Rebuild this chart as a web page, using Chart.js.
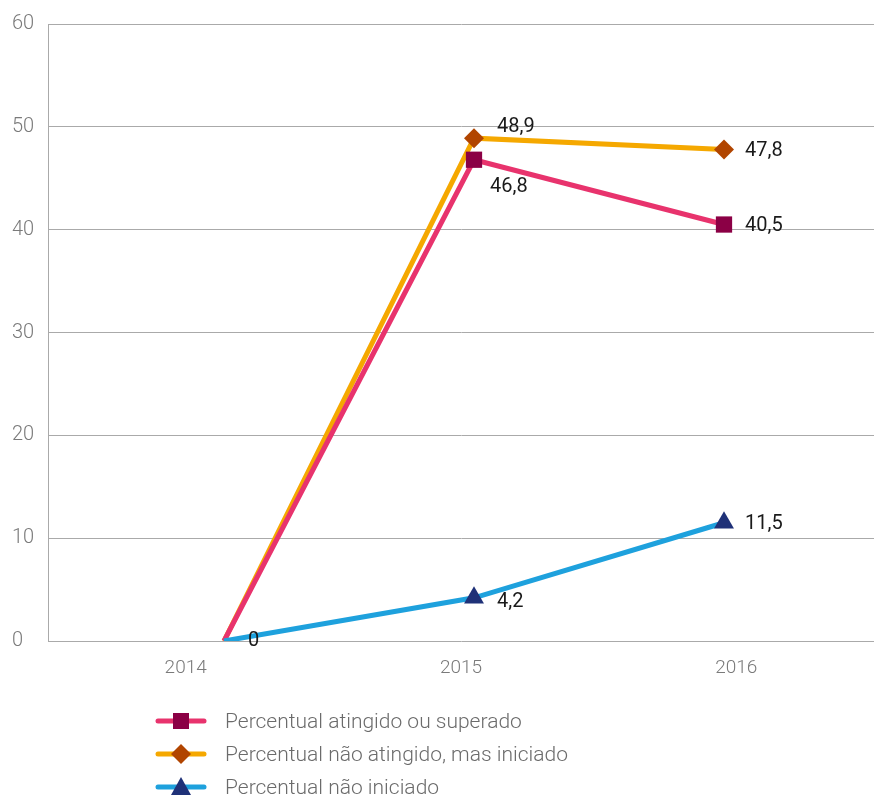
<!DOCTYPE html>
<html>
<head>
<meta charset="utf-8">
<script src="https://cdn.jsdelivr.net/npm/chart.js@4.4.1/dist/chart.umd.min.js"></script>
<style>
    html, body { margin: 0; padding: 0; background: #fff; }
    #wrap { position: relative; width: 874px; height: 798px; }
    #legend {
        position: absolute; left: 155px; top: 704px;
        font-family: Roboto, "DejaVu Sans", sans-serif; font-size: 21px; font-weight: 300; color: #6b6b6b;
    }
    .leg-row { display: flex; align-items: center; height: 33px; }
    .leg-row svg { margin-right: 18px; }
</style>
</head>
<body>
<div id="wrap">
    <canvas id="chart" width="874" height="798"></canvas>
    <div id="legend"></div>
</div>
<script>
const years = ['2014', '2015', '2016'];
const atingido = [0, 46.8, 40.5];
const naoAtingido = [0, 48.9, 47.8];
const naoIniciado = [0, 4.2, 11.5];
const yTicks = [0, 10, 20, 30, 40, 50, 60];

const seriesNames = [
    'Percentual atingido ou superado',
    'Percentual não atingido, mas iniciado',
    'Percentual não iniciado'
];

// label offsets (left edge of text relative to the point), one per point
const labelOffsets = [
    [null, [16, 27], [21, 1]],
    [null, [23, -11], [21, 2]],
    [[24, 0], [23, 4], [21, 1]]
];

const fmt = v => String(v).replace('.', ',');

const toPoints = arr => arr.map((v, i) => ({ x: i, y: v }));

const valueLabels = {
    id: 'valueLabels',
    afterDatasetsDraw(chart) {
        const ctx = chart.ctx;
        ctx.save();
        ctx.font = '400 20px Roboto, "DejaVu Sans", sans-serif';
        ctx.fillStyle = '#1a1a1a';
        ctx.textAlign = 'left';
        ctx.textBaseline = 'middle';
        chart.data.datasets.forEach((ds, di) => {
            const meta = chart.getDatasetMeta(di);
            meta.data.forEach((pt, i) => {
                const off = labelOffsets[di][i];
                if (!off) return;
                ctx.fillText(fmt(ds.data[i].y), pt.x + off[0], pt.y + off[1]);
            });
        });
        ctx.restore();
    }
};

const styles = [
    { line: '#e8336d', mark: '#8b0045', shape: 'rect', radius: 11.5 },
    { line: '#f5a800', mark: '#b14500', shape: 'rectRot', radius: 10 },
    { line: '#1ea1dd', mark: '#1f3178', shape: 'triangle', radius: 11.5 }
];

const seriesData = [atingido, naoAtingido, naoIniciado];

// no marker on the first year, only where the line starts
const radii = r => years.map((_, i) => (i === 0 ? 0 : r));

const datasets = seriesData.map((arr, i) => ({
    label: seriesNames[i],
    data: toPoints(arr),
    xAxisID: 'xp',
    borderColor: styles[i].line,
    borderWidth: 5,
    pointStyle: styles[i].shape,
    pointRadius: radii(styles[i].radius),
    pointHoverRadius: radii(styles[i].radius),
    pointBackgroundColor: styles[i].mark,
    pointBorderColor: styles[i].mark,
    pointBorderWidth: 0,
    tension: 0,
    order: [1, 2, 0][i]
}));

new Chart(document.getElementById('chart'), {
    type: 'line',
    data: { labels: years, datasets: datasets },
    options: {
        responsive: false,
        animation: false,
        layout: { autoPadding: false, padding: { left: 12, top: 24, right: 0, bottom: 112 } },
        plugins: { legend: { display: false }, tooltip: { enabled: false } },
        scales: {
            x: {
                type: 'category',
                offset: true,
                grid: { display: false, drawTicks: false },
                border: { display: false },
                ticks: { color: '#7a7a7a', font: { family: 'Roboto', size: 19, weight: 300 }, padding: 16 },
                afterFit: s => { s.height = 45; }
            },
            xp: {
                type: 'linear',
                display: false,
                min: -0.704,
                max: 2.6
            },
            y: {
                min: 0,
                max: 60,
                afterBuildTicks: s => { s.ticks = yTicks.map(v => ({ value: v })); },
                grid: { color: '#aaaaaa', lineWidth: 1, drawTicks: false },
                border: { color: '#aaaaaa' },
                ticks: {
                    color: '#7a7a7a', font: { family: 'Roboto', size: 20, weight: 300 },
                    crossAlign: 'far', padding: 0
                },
                afterFit: s => { s.width = 36; }
            }
        }
    },
    plugins: [valueLabels]
});

// legend with line + marker icons
const legend = document.getElementById('legend');
const icons = [
    '<rect x="10" y="-8" width="16" height="16" />',
    '<polygon points="18,-10 28,0 18,10 8,0" />',
    '<polygon points="18,-10 28,8 8,8" />'
];
seriesNames.forEach((name, i) => {
    const row = document.createElement('div');
    row.className = 'leg-row';
    row.innerHTML = `
        <svg width="52" height="24" viewBox="-8 -12 52 24">
            <line x1="-5" y1="0" x2="41" y2="0" stroke="${styles[i].line}" stroke-width="5" stroke-linecap="round"/>
            <g fill="${styles[i].mark}">${icons[i]}</g>
        </svg>
        <span>${name}</span>`;
    legend.appendChild(row);
});
</script>
</body>
</html>
